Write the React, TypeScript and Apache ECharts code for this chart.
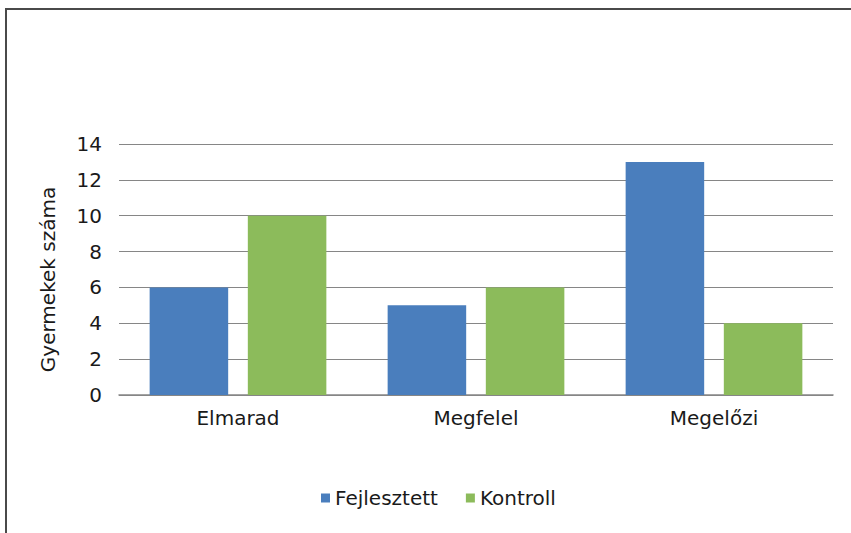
import React, { useEffect, useRef } from "react";
import * as echarts from "echarts";

const categories = ["Elmarad", "Megfelel", "Megelőzi"];
const fejlesztett = [6, 5, 13];
const kontroll = [10, 6, 4];
const seriesNames = ["Fejlesztett", "Kontroll"];
const yAxisTitle = "Gyermekek száma";

export default function App() {
  const ref = useRef<HTMLDivElement>(null);
  useEffect(() => {
    if (!ref.current) return;
    const chart = echarts.init(ref.current, undefined, { renderer: "svg" });
    const font = "'DejaVu Sans', 'Liberation Sans', Arial, sans-serif";
    chart.setOption({
      animation: false,
      backgroundColor: "#ffffff",
      graphic: [
        {
          type: "rect",
          shape: { x: 6, y: 9, width: 900, height: 600 },
          style: { fill: "none", stroke: "#4a4a4a", lineWidth: 2 },
          silent: true,
        },
      ],
      grid: { left: 119, right: 18, top: 144, bottom: 138, containLabel: false },
      legend: {
        data: seriesNames,
        top: 483,
        left: 316,
        itemWidth: 9,
        itemHeight: 9,
        itemGap: 28,
        icon: "rect",
        textStyle: { fontFamily: font, fontSize: 20, color: "#1a1a1a" },
      },
      xAxis: {
        type: "category",
        data: categories,
        axisLine: { lineStyle: { color: "#868686", width: 1.5 } },
        axisTick: { show: false },
        axisLabel: { fontFamily: font, fontSize: 20, color: "#1a1a1a", margin: 13 },
      },
      yAxis: {
        type: "value",
        min: 0,
        max: 14,
        interval: 2,
        name: yAxisTitle,
        nameLocation: "middle",
        nameGap: 61,
        nameRotate: 90,
        nameTextStyle: { fontFamily: font, fontSize: 20, color: "#1a1a1a", padding: [0, 20, 0, 0] },
        axisLine: { show: false },
        axisTick: { show: false },
        axisLabel: { fontFamily: font, fontSize: 20, color: "#1a1a1a", margin: 17 },
        splitLine: { lineStyle: { color: "#868686", width: 1.2 } },
      },
      series: [
        {
          name: seriesNames[0],
          type: "bar",
          data: fejlesztett,
          barWidth: "33%",
          barGap: "25%",
          itemStyle: { color: "#4a7ebd" },
        },
        {
          name: seriesNames[1],
          type: "bar",
          data: kontroll,
          barWidth: "33%",
          itemStyle: { color: "#8cbb5b" },
        },
      ],
    });
    return () => chart.dispose();
  }, []);
  return (
    <div
      ref={ref}
      style={{ position: "absolute", left: 0, top: 0, width: 851, height: 533 }}
    />
  );
}
